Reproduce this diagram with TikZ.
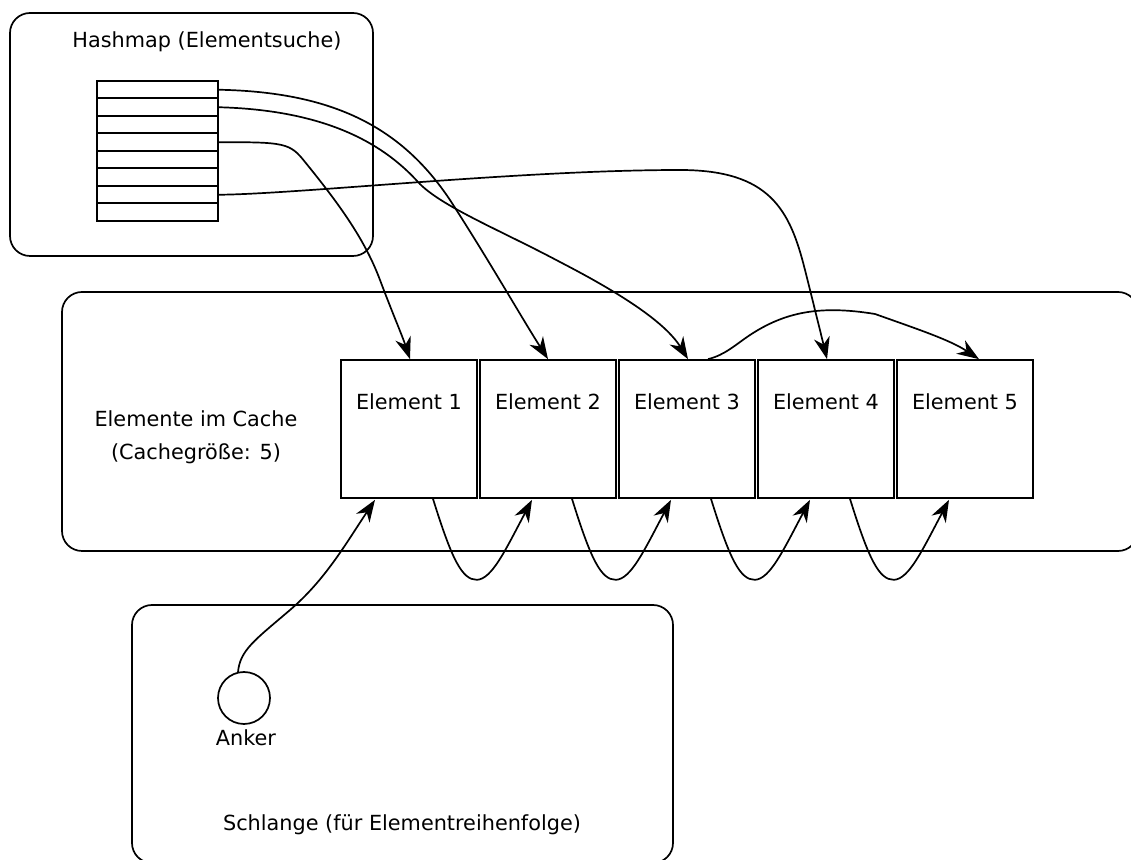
\documentclass[tikz,border=0pt]{standalone}
\usepackage{fontspec}
\setmainfont{DejaVu Sans}
\usetikzlibrary{arrows.meta,calc}
\begin{document}
\begin{tikzpicture}[x=0.5pt,y=-0.5pt,
  line width=0.85pt,
  every node/.style={font=\fontsize{10.4}{12.5}\selectfont},
  frame/.style={draw,rounded corners=10pt,inner sep=0pt},
  slot/.style={draw,minimum width=60.5pt,minimum height=8.75pt,inner sep=0pt},
  elem/.style={draw,fill=white,minimum width=68pt,minimum height=69pt,inner sep=0pt},
  link/.style={-{Stealth[length=11pt,width=8pt,inset=3.5pt]}},
]
\clip (0,0) rectangle (1131,860);

% containers
\node[frame,minimum width=181.5pt,minimum height=121.5pt] (hm) at (191.5,134.5) {};
\node[frame,minimum width=538pt,minimum height=129.5pt] (cache) at (600,421.5) {};
\node[frame,minimum width=270.5pt,minimum height=129pt] (queue) at (402.5,734) {};

% titles
\node (hmtitle) at (207,42) {Hashmap (Elementsuche)};
\node[align=center,font=\fontsize{10.4}{16.5}\selectfont] (cachetitle) at (196,437.5) {Elemente im Cache\\(Cachegröße: 5)};
\node (qtitle) at (402,825) {Schlange (für Elementreihenfolge)};

% hash table slots
\foreach \i in {1,...,8}
  \node[slot,line width=1pt] (r\i) at (157.5,{81+17.5*(\i-0.5)}) {};

% cached elements
\foreach \n/\x in {1/409,2/548,3/687,4/826,5/965}
  \node[elem,label={[anchor=center,yshift=-21.5pt]north:Element \n}] (e\n) at (\x,429) {};

% queue anchor
\node[draw,circle,minimum size=26pt,inner sep=0pt] (anc) at (244,698) {};
\node (anklabel) at (246,738) {Anker};

% hash table references
\draw[link] (r4.east) .. controls (285,142) and (290,143) .. (305,162)
  .. controls (340,205) and (365,240) .. (380,280)
  .. controls (392,312) and (402,335) .. ($(e1.north)+(1,0)$);
\draw[link] (r1.east) .. controls (330,92) and (400,125) .. (450,200)
  .. controls (490,262) and (520,315) .. (e2.north);
\draw[link] (r2.east) .. controls (320,110) and (380,140) .. (418,182)
  .. controls (440,206) and (500,230) .. (560,262)
  .. controls (620,293) and (665,322) .. ($(e3.north)+(1,0)$);
\draw[link] (r7.east) .. controls (300,194) and (520,170) .. (680,170)
  .. controls (770,170) and (790,210) .. (805,270)
  .. controls (815,310) and (820,330) .. ($(e4.north)+(1,0)$);

% element 3 -> element 5
\draw[link] ($(e3.north)+(21,0)$) .. controls (725,355) and (735,345) .. (750,335)
  .. controls (785,312) and (820,305) .. (875,314)
  .. controls (920,330) and (950,340) .. ($(e5.north)+(14,0)$);

% queue order links
\foreach \a/\b in {e1/e2,e2/e3,e3/e4,e4/e5}
  \draw[link] ($(\a.south)+(24,0)$) .. controls ($(\a.south)+(43,61)$) and ($(\a.south)+(53,81)$) .. ($(\a.south)+(68,81)$)
    .. controls ($(\a.south)+(83,80)$) and ($(\b.south)+(-43,52)$) .. ($(\b.south)+(-16,1)$);

% anchor -> first element
\draw[link] ($(anc.north)+(-6,1)$) .. controls (240,650) and (255,640) .. (290,610)
  .. controls (325,580) and (345,545) .. ($(e1.south)+(-34,1)$);
\end{tikzpicture}
\end{document}
